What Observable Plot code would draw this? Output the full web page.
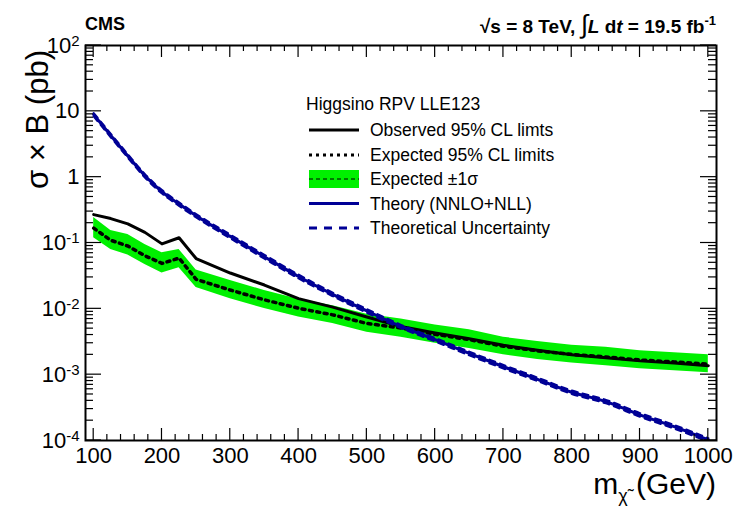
<!DOCTYPE html>
<html><head><meta charset="utf-8">
<script src="https://cdn.jsdelivr.net/npm/d3@7"></script>
<script src="https://cdn.jsdelivr.net/npm/@observablehq/plot@0.6"></script>
<style>body{margin:0;background:#fff}</style>
</head><body><div id="chart"></div>
<script>
const masses   = [100,125,150,175,200,225,250,300,350,400,450,500,550,600,650,700,750,800,850,900,950,1000];
const observed = [0.27,0.235,0.195,0.145,0.097,0.12,0.058,0.035,0.023,0.0143,0.0106,0.0075,0.0054,0.0043,0.0035,0.0028,0.00235,0.0020,0.0018,0.00162,0.0015,0.00137];
const expected = [0.168,0.11,0.09,0.064,0.049,0.059,0.028,0.0193,0.0137,0.0102,0.0081,0.0060,0.0051,0.0041,0.0034,0.0027,0.0023,0.00203,0.00186,0.00167,0.00156,0.00145];
const expUp    = [0.245,0.155,0.135,0.095,0.071,0.08,0.039,0.027,0.019,0.014,0.0111,0.0083,0.0070,0.0057,0.0048,0.0037,0.0032,0.0028,0.0026,0.0023,0.00215,0.0020];
const expDown  = [0.12,0.08,0.066,0.047,0.035,0.042,0.021,0.0142,0.0101,0.0075,0.006,0.0044,0.0037,0.0030,0.0025,0.0020,0.0017,0.0015,0.00137,0.00123,0.00115,0.00107];
const theory     = [8.9,4.3,2.1,1.05,0.6,0.39,0.26,0.126,0.062,0.031,0.0166,0.0093,0.0054,0.0034,0.0021,0.00132,0.00085,0.00054,0.00039,0.000245,0.000162,0.000102];
const theoryUp   = [9.4,4.55,2.22,1.11,0.635,0.413,0.275,0.134,0.066,0.033,0.0176,0.0099,0.0057,0.0036,0.00223,0.0014,0.0009,0.000573,0.000413,0.00026,0.000172,0.000108];
const theoryDown = [8.4,4.05,1.98,0.99,0.565,0.367,0.245,0.118,0.058,0.029,0.0156,0.0087,0.0051,0.0032,0.00197,0.00124,0.0008,0.00051,0.000367,0.00023,0.000152,0.000096];
const xTicks = [100,200,300,400,500,600,700,800,900,1000];
const yTicks = [1e-4,1e-3,1e-2,1e-1,1,10,100];
const yTickLabels = ["10^-4","10^-3","10^-2","10^-1","1","10","10^2"];

const BLUE = "#000096", GREEN = "#00f000";
const W = 739, H = 509, mL = 85, mR = 23, mT = 45, mB = 69;
const X0 = 88, X1 = 1012, Y0 = 1e-4, Y1 = 1e2;

const rows = masses.map((m, i) => ({m, obs: observed[i], exp: expected[i], up: expUp[i], dn: expDown[i],
  th: theory[i], thUp: theoryUp[i], thDn: theoryDown[i]}));
const xMinor = d3.range(100, 1001, 20).filter(v => v % 100 !== 0);
const yMinor = d3.scaleLog().domain([Y0, Y1]).ticks().filter(v => !yTicks.some(t => Math.abs(t - v) / t < 1e-6));
const yLab = new Map(yTicks.map((t, i) => [t, yTickLabels[i]]));

const chart = Plot.plot({
  width: W, height: H, marginLeft: mL, marginRight: mR, marginTop: mT, marginBottom: mB,
  style: {fontFamily: "Liberation Sans, Arial, sans-serif", fontSize: "22px"},
  x: {domain: [X0, X1], label: null},
  y: {type: "log", domain: [Y0, Y1], label: null},
  marks: [
    Plot.areaY(rows, {x: "m", y1: "dn", y2: "up", fill: GREEN}),
    Plot.line(rows, {x: "m", y: "exp", stroke: "black", strokeWidth: 3.5, strokeDasharray: "3,4.5"}),
    Plot.line(rows, {x: "m", y: "obs", stroke: "black", strokeWidth: 3}),
    Plot.line(rows, {x: "m", y: "thUp", stroke: BLUE, strokeWidth: 2.2, strokeDasharray: "6,5", curve: "monotone-x", clip: true}),
    Plot.line(rows, {x: "m", y: "thDn", stroke: BLUE, strokeWidth: 2.2, strokeDasharray: "6,5", curve: "monotone-x", clip: true}),
    Plot.line(rows, {x: "m", y: "th", stroke: BLUE, strokeWidth: 3, curve: "monotone-x", clip: true}),
    Plot.frame({stroke: "black", strokeWidth: 2}),
    Plot.axisX(xTicks, {anchor: "bottom", tickSize: 0, tickPadding: 7, tickFormat: d => String(d), fontSize: 22}),
    Plot.axisY(yTicks, {anchor: "left", tickSize: 0, tickPadding: 6, tickFormat: d => yLab.get(d), fontSize: 22})
  ]
});
document.getElementById("chart").appendChild(chart);

const svg = d3.select(chart);
// inward ticks on all four sides, positioned through the chart's own scales
const sx = chart.scale("x"), sy = chart.scale("y");
const fTop = mT, fBottom = H - mB, fLeft = mL, fRight = W - mR;
const tg = svg.append("g").attr("stroke", "black").attr("stroke-width", 1.2);
const addX = (vals, len) => vals.forEach(v => {
  const px = sx.apply(v);
  tg.append("line").attr("x1", px).attr("x2", px).attr("y1", fBottom).attr("y2", fBottom - len);
  tg.append("line").attr("x1", px).attr("x2", px).attr("y1", fTop).attr("y2", fTop + len);
});
const addY = (vals, len) => vals.forEach(v => {
  const py = sy.apply(v);
  tg.append("line").attr("y1", py).attr("y2", py).attr("x1", fLeft).attr("x2", fLeft + len);
  tg.append("line").attr("y1", py).attr("y2", py).attr("x1", fRight).attr("x2", fRight - len);
});
addX(xTicks, 12); addX(xMinor, 6); addY(yTicks, 16); addY(yMinor, 8);

// superscripts on y tick labels
svg.selectAll("text").each(function() {
  const t = d3.select(this);
  const s = this.textContent;
  if (/^10\^/.test(s)) {
    t.text("");
    t.append("tspan").text("10");
    t.append("tspan").attr("font-size", 15).attr("dy", "-0.45em").text(s.slice(3));
  }
});

const ff = "Liberation Sans, Arial, sans-serif";
// header
svg.append("text").attr("x", 85).attr("y", 30).attr("text-anchor", "start").attr("font-family", ff).attr("font-weight", "bold").attr("font-size", 18).text("CMS");
const hdr = svg.append("text").attr("x", 716).attr("y", 33).attr("text-anchor", "end").attr("font-family", ff).attr("font-weight", "bold").attr("font-size", 19);
hdr.append("tspan").text("\u221As = 8 TeV, ");
hdr.append("tspan").attr("font-size", 26).attr("font-weight", "normal").text("\u222B");
hdr.append("tspan").attr("font-style", "italic").text("L");
hdr.append("tspan").text(" d");
hdr.append("tspan").attr("font-style", "italic").text("t");
hdr.append("tspan").text(" = 19.5 fb");
hdr.append("tspan").attr("font-size", 13).attr("dy", -8).text("-1");

// axis titles
const xl = svg.append("text").attr("x", 716).attr("y", 494).attr("text-anchor", "end").attr("font-family", ff).attr("font-size", 30);
xl.append("tspan").text("m");
xl.append("tspan").attr("font-size", 18).attr("dy", 8).text("\u03C7\u0303");
xl.append("tspan").attr("dy", -8).text("\u00A0(GeV)");
svg.append("text").attr("transform", "translate(48,50) rotate(-90)").attr("text-anchor", "end")
  .attr("font-family", ff).attr("font-size", 31).text("\u03C3 \u00D7 B (pb)");

// legend
const lg = svg.append("g").attr("font-family", ff).attr("font-size", 17.5).attr("text-anchor", "start");
lg.append("text").attr("x", 306).attr("y", 110).text("Higgsino RPV LLE123");
const entries = [
  {y: 130, label: "Observed 95% CL limts", kind: "obs"},
  {y: 155, label: "Expected 95% CL limits", kind: "exp"},
  {y: 179, label: "Expected \u00B11\u03C3", kind: "band"},
  {y: 203.5, label: "Theory (NNLO+NLL)", kind: "th"},
  {y: 228, label: "Theoretical Uncertainty", kind: "thu"}
];
entries.forEach(e => {
  if (e.kind === "band") {
    lg.append("rect").attr("x", 309).attr("y", e.y - 9).attr("width", 50).attr("height", 18).attr("fill", GREEN);
    lg.append("line").attr("x1", 309).attr("x2", 359).attr("y1", e.y).attr("y2", e.y).attr("stroke", "black").attr("stroke-width", 1).attr("stroke-dasharray", "4,3");
  } else {
    const ln = lg.append("line").attr("x1", 309).attr("x2", 359).attr("y1", e.y).attr("y2", e.y);
    if (e.kind === "obs") ln.attr("stroke", "black").attr("stroke-width", 3);
    if (e.kind === "exp") ln.attr("stroke", "black").attr("stroke-width", 3).attr("stroke-dasharray", "3,4");
    if (e.kind === "th") ln.attr("stroke", BLUE).attr("stroke-width", 3);
    if (e.kind === "thu") ln.attr("stroke", BLUE).attr("stroke-width", 3).attr("stroke-dasharray", "8,7");
  }
  lg.append("text").attr("x", 370).attr("y", e.y + 6).text(e.label);
});
</script>
</body></html>
